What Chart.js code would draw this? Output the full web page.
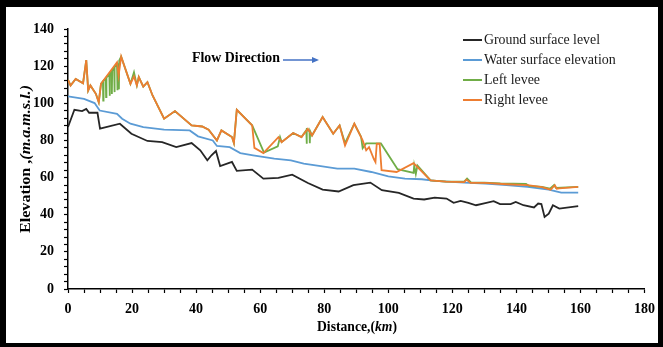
<!DOCTYPE html>
<html>
<head>
<meta charset="utf-8">
<script src="https://cdn.jsdelivr.net/npm/chart.js@4.4.0/dist/chart.umd.min.js"></script>
<style>
  html, body { margin: 0; padding: 0; background: #fff; }
  #wrap { position: relative; width: 663px; height: 347px; }
</style>
</head>
<body>
<div id="wrap"><canvas id="profile" width="663" height="347"></canvas></div>
<script>
// values
const groundKm = [0, 2, 4.4, 5.7, 6.6, 9.2, 10, 16.2, 19.8, 24.8,
  29.4, 33.8, 38.6, 41.3, 43.5, 44.8, 46.2, 47.5, 51.2, 52.7,
  57.5, 61, 65.7, 70, 74.9, 79.5, 84.5, 89.1, 94.4, 98,
  103.3, 107.9, 111.2, 114.5, 118.2, 120.4, 122.6, 125, 127.4, 129.6,
  132.9, 134.9, 138.2, 139.8, 142.2, 145.5, 146.8, 147.8, 148.8, 150.1,
  151.4, 153.4, 159.3];
const groundElev = [87.2, 96.5, 95.8, 97, 94.9, 94.9, 86.3, 89, 83.6, 79.7,
  79.1, 76.4, 78.6, 74.7, 69.3, 72, 74.3, 66.2, 68.4, 63.6,
  64.3, 59.4, 59.8, 61.6, 57.1, 53.5, 52.5, 55.9, 57.3, 53.2,
  51.7, 48.7, 48.2, 49.2, 48.7, 46.4, 47.4, 46.4, 45.1, 46,
  47.3, 45.7, 45.7, 46.9, 45.1, 43.9, 46, 45.7, 38.8, 40.6,
  45.1, 43.3, 44.6];

const waterKm = [0, 5, 8.3, 9.9, 15.3, 16.9, 19.5, 23.5, 30, 38,
  40.6, 45.2, 46.5, 50.5, 53.8, 57.8, 64.4, 69.6, 73.6, 78.9,
  84.1, 89.4, 94.7, 100, 105.2, 110.5, 114.5, 123.7, 130.3, 136.9,
  143.5, 150.1, 154, 159.3];
const waterElev = [103.7, 102.4, 100.1, 96.1, 94.3, 91.7, 89, 87.2, 85.8, 85.4,
  82.2, 80, 77, 76.4, 73.2, 72, 70.2, 69.3, 67.5, 66.2,
  64.8, 64.8, 63, 60.7, 59.4, 59.1, 58.2, 57.3, 56.7, 55.9,
  55, 53.5, 51.9, 51.9];

const leftKm = [0, 0.8, 2.4, 4.7, 5.7, 6.3, 7, 8.7, 9.6, 10.3,
  10.9, 11.0, 11.1, 11.8, 11.9, 12.0, 12.9, 13.0, 13.1, 13.6,
  13.7, 13.8, 14.4, 14.5, 14.6, 15.3, 15.4, 15.5, 15.9, 16.0,
  16.6, 19.5, 20.6, 21.5, 22.1, 23.5, 24.8, 26.4, 30, 33.4,
  38.6, 41.9, 43.9, 46.5, 47.9, 51.2, 51.8, 52.7, 57.5, 61.2,
  65.5, 66.2, 66.7, 70.3, 72.9, 74.4, 74.5, 74.6, 75.4, 75.5,
  75.6, 76.2, 79.5, 82.8, 84.8, 86.5, 89.4, 91.5, 92, 93.1,
  97.7, 102.9, 107.9, 108.1, 108.6, 109.1, 113.2, 118, 123.7, 124.6,
  125.8, 130, 135, 143, 144, 148, 150.5, 151.8, 152.3, 159.3];
const leftElev = [112.6, 109.6, 113.1, 110.8, 123.3, 106.9, 109.6, 105.1, 100.6, 110.5,
  111.8, 101.5, 112, 113.6, 103.3, 113.8, 115.8, 104, 116, 117.3,
  105, 117.6, 119, 106, 119.4, 121, 107, 121.5, 107.5, 123,
  125.1, 110.5, 116.7, 109.6, 114.1, 109, 111.4, 104.2, 91.7, 95.8,
  88.1, 87.5, 85.8, 80, 85.4, 81.8, 78.6, 96.5, 88.1, 73.5,
  76.8, 81.8, 79.1, 84, 81.8, 85.5, 78.2, 85.8, 85, 78.5,
  85, 82.7, 92.6, 83.6, 88.1, 78.5, 89, 82, 75.8, 78.4,
  78.4, 64.5, 62.5, 66.5, 62, 66.5, 58.5, 57.8, 57.8, 59.5,
  57.4, 57.3, 56.9, 56.6, 55.5, 55, 54, 56, 54.5, 55];

const rightKm = [0, 0.8, 2.4, 4.7, 5.7, 6.3, 7, 8.7, 9.6, 10.3,
  15.3, 15.8, 16.6, 19.5, 20.6, 21.5, 22.1, 23.5, 24.8, 26.4,
  30, 33.4, 38.6, 41.9, 43.9, 46.5, 47.9, 51.2, 51.8, 52.7,
  57.5, 58.2, 61, 65.7, 66.7, 70.3, 72.9, 74.9, 76.2, 79.5,
  82.8, 84.8, 86.5, 89.4, 92, 93.1, 94, 95.5, 96, 96.4,
  97.3, 97.9, 102.6, 107.9, 113.2, 118, 123.7, 124.4, 125.7, 130.3,
  136.9, 143.5, 148, 150.7, 152, 152.6, 153.4, 159.3];
const rightElev = [112.6, 109.6, 113.1, 110.8, 123.3, 106.9, 109.6, 105.1, 100.6, 110.5,
  122.1, 114.9, 125.1, 110.5, 114.5, 109.6, 114.1, 109, 111.4, 104.2,
  91.7, 95.8, 88.1, 87.5, 85.8, 80, 85.4, 81.8, 78.6, 96.5,
  88.1, 76, 73.2, 81.8, 79.1, 84, 81.8, 86.3, 82.7, 92.6,
  83.6, 88.1, 77.3, 89, 80, 74.7, 76.4, 70, 68.4, 78.2,
  78.2, 64, 63, 67.8, 58.5, 57.8, 57.6, 58.9, 57.1, 57.1,
  56.4, 55.9, 54.8, 53.5, 55.9, 54, 54.2, 55];

const seriesNames = ["Ground surface level", "Water surface elevation", "Left levee", "Right levee"];
const seriesColors = ["#262626", "#5b9bd5", "#70ad47", "#ed7d31"];

const toPoints = (xs, ys) => xs.map((x, i) => ({ x: x, y: ys[i] }));

const serif = '"Liberation Serif", "Times New Roman", serif';

// draw a string built from parts with different fonts, squeezed to a width
function drawParts(ctx, parts, cx, cy, rot, width) {
  ctx.save();
  let total = 0;
  for (const p of parts) { ctx.font = p.font; p.w = ctx.measureText(p.t).width; total += p.w; }
  ctx.translate(cx, cy);
  ctx.rotate(rot);
  ctx.scale(width / total, 1);
  ctx.textBaseline = "middle";
  ctx.textAlign = "left";
  ctx.fillStyle = "#000";
  let x = -total / 2;
  for (const p of parts) { ctx.font = p.font; ctx.fillText(p.t, x, 0); x += p.w; }
  ctx.restore();
}

const decor = {
  id: "decor",
  beforeDraw(chart) {
    const ctx = chart.ctx;
    ctx.save();
    ctx.fillStyle = "#fff";
    ctx.fillRect(0, 0, chart.width, chart.height);
    ctx.restore();
  },
  afterDraw(chart) {
    const ctx = chart.ctx;
    ctx.save();
    // legend
    const rowsY = [40, 60, 80, 100];
    const textW = [116, 132, 56, 64];
    ctx.font = "14px " + serif;
    ctx.textBaseline = "middle";
    for (let i = 0; i < seriesNames.length; i++) {
      ctx.strokeStyle = seriesColors[i];
      ctx.lineWidth = 2;
      ctx.beginPath();
      ctx.moveTo(463, rowsY[i]);
      ctx.lineTo(482, rowsY[i]);
      ctx.stroke();
      ctx.fillStyle = "#1a1a1a";
      ctx.fillText(seriesNames[i], 484, rowsY[i], textW[i]);
    }
    // flow direction note
    ctx.font = "bold 14px " + serif;
    ctx.fillStyle = "#000";
    ctx.fillText("Flow Direction", 192, 58, 88);
    ctx.strokeStyle = "#4472c4";
    ctx.fillStyle = "#4472c4";
    ctx.lineWidth = 1.5;
    ctx.beginPath();
    ctx.moveTo(283, 60);
    ctx.lineTo(314, 60);
    ctx.stroke();
    ctx.beginPath();
    ctx.moveTo(319, 60);
    ctx.lineTo(312, 57);
    ctx.lineTo(312, 63);
    ctx.closePath();
    ctx.fill();
    ctx.restore();

    // axis titles
    const b = "bold 15px " + serif, bi = "italic bold 15px " + serif;
    drawParts(ctx, [{ t: "Elevation ,", font: b }, { t: "(m.a.m.s.l.)", font: bi }], 26, 159, -Math.PI / 2, 148);
    drawParts(ctx, [{ t: "Distance,(", font: b }, { t: "km", font: bi }, { t: ")", font: b }], 357, 327, 0, 80);

    // black frame
    ctx.save();
    ctx.fillStyle = "#000";
    ctx.fillRect(0, 0, 663, 7);
    ctx.fillRect(0, 0, 6, 347);
    ctx.fillRect(0, 343, 663, 4);
    ctx.fillRect(658, 0, 5, 347);
    ctx.restore();
  }
};

const tickFont = { family: serif, size: 14, weight: "bold" };

new Chart(document.getElementById("profile").getContext("2d"), {
  type: "line",
  data: {
    datasets: [
      { label: seriesNames[3], data: toPoints(rightKm, rightElev), borderColor: seriesColors[3], order: 0 },
      { label: seriesNames[2], data: toPoints(leftKm, leftElev), borderColor: seriesColors[2], order: 1 },
      { label: seriesNames[1], data: toPoints(waterKm, waterElev), borderColor: seriesColors[1], order: 2 },
      { label: seriesNames[0], data: toPoints(groundKm, groundElev), borderColor: seriesColors[0], order: 3 }
    ]
  },
  options: {
    responsive: false,
    animation: false,
    devicePixelRatio: 1,
    layout: { padding: { left: 0, top: 29, right: 17, bottom: 0 } },
    elements: {
      point: { radius: 0 },
      line: { borderWidth: 1.8, tension: 0, fill: false }
    },
    plugins: {
      legend: { display: false },
      tooltip: { enabled: false }
    },
    scales: {
      x: {
        type: "linear",
        min: 0,
        max: 180,
        afterFit: (scale) => { scale.height = 58; },
        ticks: {
          stepSize: 5,
          autoSkip: false,
          maxRotation: 0,
          padding: 8,
          color: "#000",
          font: tickFont,
          callback: (v) => (v % 20 === 0 ? v : "")
        },
        grid: { drawOnChartArea: false, color: "#000", tickLength: 4, tickWidth: 1.2 },
        border: { color: "#000", width: 1.5 }
      },
      y: {
        min: 0,
        max: 140,
        afterFit: (scale) => { scale.width = 68; },
        ticks: {
          stepSize: 4,
          autoSkip: false,
          padding: 10,
          color: "#000",
          font: tickFont,
          callback: (v) => (v % 20 === 0 ? v : "")
        },
        grid: { drawOnChartArea: false, color: "#000", tickLength: 4, tickWidth: 1.2 },
        border: { color: "#000", width: 1.5 }
      }
    }
  },
  plugins: [decor]
});
</script>
</body>
</html>
